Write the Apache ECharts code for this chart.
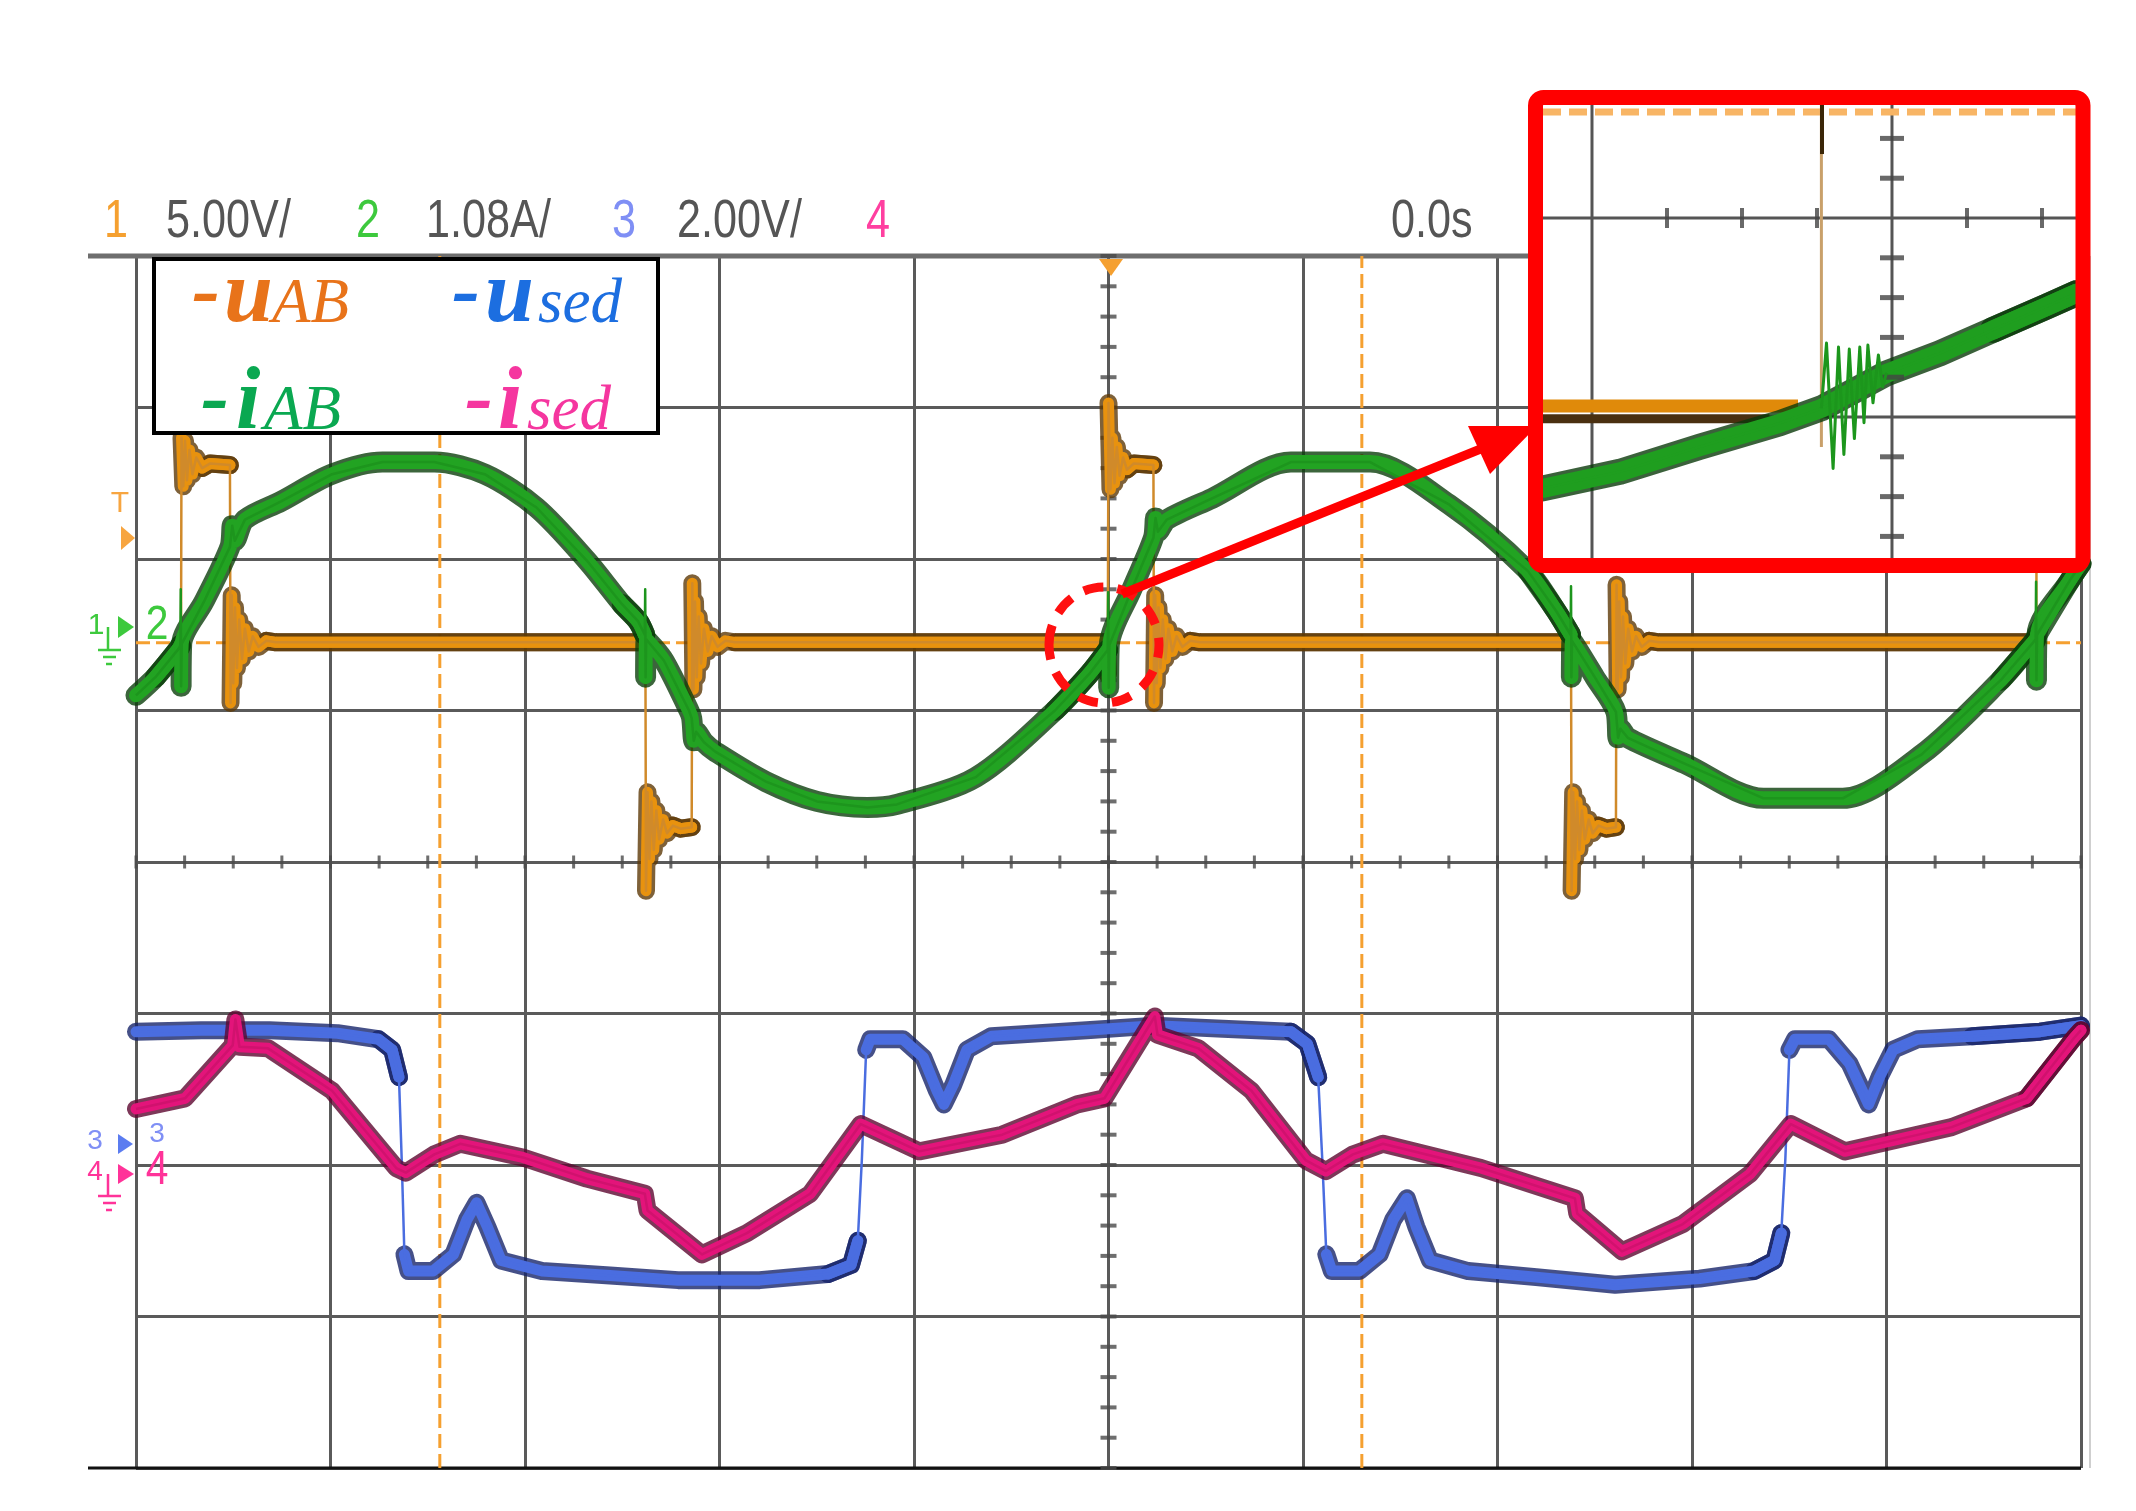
<!DOCTYPE html>
<html><head><meta charset="utf-8">
<script src="https://cdn.jsdelivr.net/npm/echarts@6.0.0/dist/echarts.min.js"></script>
<style>html,body{margin:0;padding:0;background:#fff;}#c{width:2136px;height:1511px;}</style>
</head><body><div id="c"></div>
<script>
// ---------- data (units: screen divisions, x: -5..5, y: -4..4) ----------
const uAB = [
 [-4.769,1.18],[-4.766,2.80],[-4.757,2.48],[-4.748,2.78],[-4.738,2.52],[-4.725,2.72],[-4.71,2.56],[-4.69,2.67],[-4.66,2.60],[-4.62,2.63],[-4.517,2.62],
 [-4.514,1.05],[-4.508,1.76],[-4.500,1.18],[-4.491,1.68],[-4.481,1.28],[-4.469,1.60],[-4.455,1.34],[-4.44,1.54],[-4.42,1.39],[-4.40,1.49],[-4.37,1.42],[-4.33,1.46],[-4.28,1.45],
 [-2.381,1.45],
 [-2.378,-0.19],[-2.370,0.46],[-2.360,0.02],[-2.350,0.40],[-2.338,0.08],[-2.325,0.34],[-2.31,0.15],[-2.29,0.28],[-2.27,0.19],[-2.24,0.24],[-2.20,0.22],[-2.143,0.23],
 [-2.140,1.84],[-2.134,1.14],[-2.126,1.72],[-2.117,1.22],[-2.107,1.62],[-2.095,1.31],[-2.08,1.54],[-2.06,1.39],[-2.04,1.49],[-2.01,1.42],[-1.97,1.46],[-1.92,1.45],
 [-0.008,1.45],
 [-0.004,1.24],[0.000,3.03],[0.010,2.46],[0.020,2.80],[0.031,2.50],[0.043,2.74],[0.057,2.55],[0.075,2.67],[0.095,2.59],[0.13,2.63],[0.231,2.62],
 [0.234,1.05],[0.240,1.76],[0.248,1.18],[0.257,1.68],[0.267,1.28],[0.279,1.60],[0.293,1.34],[0.308,1.54],[0.328,1.39],[0.35,1.49],[0.38,1.42],[0.42,1.46],[0.47,1.45],
 [2.378,1.45],
 [2.381,-0.19],[2.389,0.46],[2.399,0.02],[2.409,0.40],[2.421,0.08],[2.434,0.34],[2.449,0.15],[2.469,0.28],[2.489,0.19],[2.519,0.24],[2.56,0.22],[2.609,0.23],
 [2.612,1.83],[2.618,1.14],[2.626,1.72],[2.635,1.22],[2.645,1.62],[2.657,1.31],[2.672,1.54],[2.692,1.39],[2.712,1.49],[2.742,1.42],[2.78,1.46],[2.83,1.45],
 [4.769,1.45],[4.770,1.20],[4.772,2.62],[5.0,2.62]
];
const iAB = [
 [-5.0,1.10],[-4.90,1.22],[-4.779,1.41],
 [-4.772,1.43],[-4.770,1.80],[-4.768,1.16],[-4.765,1.44],
 [-4.65,1.72],[-4.517,2.08],[-4.505,2.22],[-4.492,2.12],[-4.44,2.26],
 [-4.254,2.38],[-3.992,2.56],[-3.733,2.64],[-3.466,2.64],[-3.207,2.56],[-2.941,2.34],[-2.682,1.99],[-2.50,1.70],
 [-2.419,1.59],[-2.384,1.50],[-2.382,1.80],[-2.380,1.22],[-2.377,1.47],
 [-2.286,1.33],[-2.157,1.00],[-2.143,0.95],[-2.132,0.80],[-2.120,0.86],[-2.08,0.79],
 [-2.024,0.73],[-1.761,0.53],[-1.499,0.40],[-1.239,0.36],[-1.088,0.38],[-0.682,0.56],[-0.275,1.00],
 [-0.10,1.24],[-0.004,1.40],[-0.002,1.78],[0.001,1.15],[0.004,1.43],
 [0.12,1.80],[0.231,2.14],[0.242,2.27],[0.254,2.18],[0.30,2.26],
 [0.532,2.40],[0.938,2.64],[1.345,2.64],[1.751,2.36],[2.157,1.92],[2.30,1.66],
 [2.376,1.50],[2.378,1.82],[2.380,1.22],[2.383,1.46],
 [2.5,1.22],[2.609,0.99],[2.620,0.82],[2.632,0.88],[2.67,0.82],
 [2.962,0.65],[3.368,0.42],[3.775,0.42],[4.181,0.71],[4.587,1.20],
 [4.748,1.44],[4.767,1.47],[4.769,1.85],[4.771,1.20],[4.774,1.50],
 [4.948,1.87],[5.0,1.97]
];
const uSed = [
 [-5.0,-1.12],[-4.664,-1.11],[-4.314,-1.11],[-3.964,-1.13],[-3.753,-1.17],[-3.683,-1.24],[-3.648,-1.42],[-3.634,-1.96],[-3.620,-2.59],[-3.599,-2.70],
 [-3.473,-2.70],[-3.368,-2.59],[-3.298,-2.36],[-3.249,-2.25],[-3.193,-2.41],[-3.123,-2.63],[-2.913,-2.70],[-2.563,-2.73],[-2.213,-2.76],[-1.793,-2.76],
 [-1.443,-2.72],[-1.324,-2.66],[-1.289,-2.50],[-1.268,-1.96],[-1.246,-1.24],[-1.225,-1.17],[-1.057,-1.17],[-0.952,-1.29],[-0.882,-1.51],[-0.847,-1.60],
 [-0.798,-1.47],[-0.728,-1.24],[-0.602,-1.15],[-0.112,-1.11],[0.238,-1.08],[0.588,-1.10],[0.938,-1.12],[1.022,-1.20],[1.078,-1.42],[1.099,-1.96],
 [1.120,-2.59],[1.148,-2.70],[1.289,-2.70],[1.394,-2.59],[1.464,-2.36],[1.534,-2.22],[1.583,-2.41],[1.653,-2.63],[1.849,-2.70],[2.199,-2.74],
 [2.605,-2.79],[3.039,-2.75],[3.319,-2.70],[3.424,-2.63],[3.459,-2.45],[3.480,-1.96],[3.501,-1.24],[3.529,-1.17],[3.704,-1.17],[3.810,-1.33],
 [3.908,-1.60],[3.964,-1.42],[4.034,-1.24],[4.160,-1.17],[4.440,-1.15],[4.790,-1.12],[5.0,-1.08]
];
const iSed = [
 [-5.0,-1.63],[-4.748,-1.56],[-4.503,-1.21],[-4.489,-1.04],[-4.468,-1.22],[-4.321,-1.23],[-3.992,-1.51],[-3.662,-2.02],[-3.613,-2.05],[-3.466,-1.93],
 [-3.333,-1.86],[-3.011,-1.95],[-2.682,-2.09],[-2.384,-2.19],[-2.37,-2.30],[-2.090,-2.59],[-1.859,-2.45],[-1.534,-2.19],[-1.274,-1.73],[-0.973,-1.91],
 [-0.546,-1.80],[-0.161,-1.60],[-0.021,-1.56],[0.238,-1.02],[0.252,-1.14],[0.462,-1.23],[0.735,-1.51],[1.015,-1.97],[1.118,-2.04],[1.257,-1.93],
 [1.411,-1.86],[1.915,-2.02],[2.398,-2.22],[2.41,-2.32],[2.640,-2.57],[2.953,-2.39],[3.298,-2.06],[3.508,-1.73],[3.786,-1.91],[4.335,-1.75],
 [4.720,-1.56],[4.965,-1.16],[5.0,-1.11]
];
const cursorX = [-3.438, 1.3025];
const ch1Ground = 1.447;

// inset (zoomed view), units: inset divisions
const insetIAB = [[0,0.350],[0.256,0.433],[0.523,0.559],[0.789,0.677],[0.928,0.752],[1.145,0.928],[1.323,1.029],[1.500,1.146],[1.678,1.263],[1.777,1.330]];
const insetIABRing = [[0.928,0.752],[0.945,1.08],[0.967,0.45],[0.985,1.06],[1.003,0.52],[1.021,1.05],[1.038,0.60],[1.056,1.06],[1.070,0.68],[1.083,1.07],[1.100,0.78],[1.118,1.02],[1.132,0.86],[1.145,0.93]];
const insetUAB = [[0,0.764],[0.85,0.764]];
const insetUABShade = [[0,0.70],[0.755,0.70]];
const insetUABEdge = [[0.928,0.558],[0.928,2.28]];
const insetEdgeSpike = [[0.93,2.03],[0.93,2.28]];
const insetCursorY = 2.241;
const insetGridX = [0.1633, 1.1633];
const insetGridY = [0.7085, 1.7085];
const insetHTicksX = [0.4133, 0.6633, 0.9133, 1.4133, 1.6633];
const insetVTicksY = [0.1085, 0.3085, 0.5085, 0.9085, 1.1085, 1.3085, 1.5085, 1.9085, 2.1085];

// header texts
const headerItems = [
 {t:'1', c:'#f5a030'}, {t:'5.00V/', c:'#555'}, {t:'2', c:'#3dc93d'}, {t:'1.08A/', c:'#555'},
 {t:'3', c:'#7f8ff5'}, {t:'2.00V/', c:'#555'}, {t:'4', c:'#ff3fa0'}, {t:'0.0s', c:'#555'}
];
const headerX = [104, 166, 356, 426, 612, 677, 866, 1391];

// center-line tick positions
const centerXTicks = []; for (let k = -20; k <= 20; k++) centerXTicks.push([k * 0.25, 0]);
const centerYTicks = []; for (let k = -20; k <= 20; k++) centerYTicks.push([0, k * 0.2]);

// ---------- chart ----------
const chart = echarts.init(document.getElementById('c'), null, {renderer: 'canvas', width: 2136, height: 1511});
const NF = "'Liberation Sans','Arial',sans-serif";
const SF = "'Liberation Serif','DejaVu Serif',serif";

// split a trace into runs, breaking at near-vertical edges (those are drawn thin only)
function runs(data, thr) {
  const segs = [[data[0]]];
  for (let i = 1; i < data.length; i++) {
    const a = data[i - 1], b = data[i];
    if (Math.abs(b[1] - a[1]) > thr * Math.abs(b[0] - a[0])) segs.push([b]);
    else segs[segs.length - 1].push(b);
  }
  return segs.filter(s => s.length > 1);
}
function trace(data, color, thin, dark, w, z, thr, smooth, xi, yi) {
  xi = xi || 0; yi = yi || 0;
  const segs = runs(data, thr);
  // each run drawn whole, plus its settled tail as its own stroke
  const parts = [];
  segs.forEach(s => { parts.push(s); if (s.length > 3) parts.push(s.slice(-3)); });
  const out = [];
  parts.forEach(s => out.push({type:'line', xAxisIndex:xi, yAxisIndex:yi, data:s, symbol:'none', silent:true, animation:false, z, smooth,
     lineStyle:{color:dark, width:w + 7, opacity:0.8, join:'round', cap:'round'}}));
  parts.forEach(s => out.push({type:'line', xAxisIndex:xi, yAxisIndex:yi, data:s, symbol:'none', silent:true, animation:false, z, smooth,
     lineStyle:{color, width:w, join:'round', cap:'round'}}));
  out.push({type:'line', xAxisIndex:xi, yAxisIndex:yi, data, symbol:'none', silent:true, animation:false, z,
     lineStyle:{color:thin, width:2.5, join:'round'}});
  return out;
}
function simpleLine(data, color, width, z, xi, yi, type) {
  return {type:'line', xAxisIndex:xi, yAxisIndex:yi, data, symbol:'none', silent:true, animation:false, z,
    lineStyle:{color, width, type: type || 'solid', join:'round'}};
}
const dash = [14, 6];

const series = [];
cursorX.forEach(x => series.push(simpleLine([[x,-4],[x,4]], '#f5a030', 3, 2, 0, 0, dash)));
series.push(simpleLine([[-5,ch1Ground],[5,ch1Ground]], '#f5a030', 3, 2, 0, 0, dash));
series.push({type:'scatter', data:centerXTicks, symbol:'rect', symbolSize:[3,13], itemStyle:{color:'#4a4a4a'}, silent:true, animation:false, z:2});
series.push({type:'scatter', data:centerYTicks, symbol:'rect', symbolSize:[16,4], itemStyle:{color:'#4a4a4a'}, silent:true, animation:false, z:2});
series.push(...trace(uAB, '#e8920e', '#d08a2a', '#5e3a08', 11, 3, 200, false));
series.push(...trace(iAB, '#22a322', '#1d951d', '#0b3f0b', 14, 3, 100, 0.3));
series.push(...trace(uSed, '#4a6de0', '#4a6de0', '#16246a', 11, 3, 20, false));
series.push(...trace(iSed, '#e3147a', '#d0126e', '#5c0630', 11, 3, 100, false));

// inset
insetGridX.forEach(x => series.push(simpleLine([[x,0],[x,2.2764]], '#555', 3, 5, 1, 1)));
insetGridY.forEach(y => series.push(simpleLine([[0,y],[1.7767,y]], '#555', 3, 5, 1, 1)));
series.push({type:'scatter', xAxisIndex:1, yAxisIndex:1, data:insetHTicksX.map(x => [x, insetGridY[1]]), symbol:'rect', symbolSize:[4,20], itemStyle:{color:'#444'}, silent:true, animation:false, z:5});
series.push({type:'scatter', xAxisIndex:1, yAxisIndex:1, data:insetVTicksY.map(y => [insetGridX[1], y]), symbol:'rect', symbolSize:[24,5], itemStyle:{color:'#444'}, silent:true, animation:false, z:5});
series.push(simpleLine([[0,insetCursorY],[1.7767,insetCursorY]], '#f8b565', 7, 5, 1, 1, [18, 8]));
series.push(simpleLine(insetUABShade, '#4a3010', 9, 5, 1, 1));
series.push(simpleLine(insetUAB, '#e08a0a', 13, 5, 1, 1));
series.push(simpleLine(insetUABEdge, '#c9a06a', 3, 5, 1, 1));
series.push(simpleLine(insetEdgeSpike, '#3a2608', 4, 5, 1, 1));
series.push(simpleLine(insetIABRing, '#1c961c', 3, 6, 1, 1));
series.push(...trace(insetIAB, '#1f9e1f', '#1f9e1f', '#0a3a0a', 19, 5, 100, false, 1, 1));

// ---------- graphics ----------
const G = [];
function txt(x, y, text, o, sx) {
  G.push({type:'text', x, y, z:100, silent:true, scaleX: sx || 1, scaleY: 1,
    style:Object.assign({text, fill:'#555', fontFamily:NF, fontSize:52, align:'left', verticalAlign:'middle',
      textAlign:'left', textVerticalAlign:'middle'}, o)});
}
function ln(x1, y1, x2, y2, color, w, z) {
  G.push({type:'line', z: z || 100, silent:true, shape:{x1, y1, x2, y2}, style:{stroke:color, lineWidth:w}});
}
function poly(pts, color) {
  G.push({type:'polygon', z:100, silent:true, shape:{points:pts}, style:{fill:color}});
}
// frame extensions
ln(88, 256, 2081, 256, '#6e6e6e', 5, 1);
ln(88, 1468, 2081, 1468, '#111', 3, 1);
ln(2090, 256, 2090, 1468, '#cfcfcf', 2, 1);
// header
headerItems.forEach((h, i) => txt(headerX[i], 222, h.t, {fill:h.c, fontSize:54}, 0.8));
// trigger marker
poly([[1099,259],[1123,259],[1111,276]], '#f5a030');
// left markers
txt(120, 504, 'T', {fill:'#f7a540', fontSize:30, align:'center', textAlign:'center'});
poly([[121,526],[121,550],[135,538]], '#f7a540');
txt(157, 626, '2', {fill:'#3dc93d', fontSize:48, align:'center', textAlign:'center'}, 0.85);
txt(96, 626, '1', {fill:'#3dc93d', fontSize:30, align:'center', textAlign:'center'});
poly([[118,616],[118,638],[134,627]], '#3dc93d');
ln(108, 627, 108, 650, '#3dc93d', 2.5);
ln(98, 650, 121, 650, '#3dc93d', 2.5);
ln(103, 657, 116, 657, '#3dc93d', 2.5);
ln(106, 664, 112, 664, '#3dc93d', 2.5);
txt(157, 1134, '3', {fill:'#7f8ff5', fontSize:28, align:'center', textAlign:'center'});
txt(95, 1141, '3', {fill:'#7f8ff5', fontSize:28, align:'center', textAlign:'center'});
poly([[118,1134],[118,1154],[133,1144]], '#5b7cf0');
txt(157, 1171, '4', {fill:'#ff3399', fontSize:48, align:'center', textAlign:'center'}, 0.85);
txt(95, 1172, '4', {fill:'#ff3399', fontSize:28, align:'center', textAlign:'center'});
poly([[118,1164],[118,1184],[134,1174]], '#ff3399');
ln(108, 1174, 108, 1196, '#ff3399', 2.5);
ln(98, 1196, 121, 1196, '#ff3399', 2.5);
ln(103, 1203, 116, 1203, '#ff3399', 2.5);
ln(106, 1210, 112, 1210, '#ff3399', 2.5);
// legend box
G.push({type:'rect', z:100, silent:true, shape:{x:154, y:259, width:504, height:174}, style:{fill:'#fff', stroke:'#000', lineWidth:4}});
function leg(x, B, c, big, small) {
  txt(x[0], B - 29, '-', {fill:c, fontFamily:SF, fontSize:84, fontWeight:'bold', fontStyle:'italic'});
  txt(x[1], B - 26, big, {fill:c, fontFamily:SF, fontSize:88, fontWeight:'bold', fontStyle:'italic'});
  txt(x[2], B - 19, small, {fill:c, fontFamily:SF, fontSize:63, fontStyle:'italic'});
}
leg([192, 224, 272], 324, '#e8731a', 'u', 'AB');
leg([452, 485, 538], 324, '#1c6ee0', 'u', 'sed');
leg([201, 236, 264], 431, '#0aa851', 'i', 'AB');
leg([465, 498, 527], 431, '#f5369f', 'i', 'sed');
// annotation
G.push({type:'ellipse', z:100, silent:true, shape:{cx:1104, cy:645, rx:55, ry:58}, style:{fill:'none', stroke:'#ff1010', lineWidth:9, lineDash:[20,14]}});
ln(1122, 594, 1488, 446, '#ff0000', 9);
poly([[1537,426],[1468,426],[1490,474]], '#ff0000');
G.push({type:'rect', z:100, silent:true, shape:{x:1535.5, y:97.5, width:547.5, height:468, r:8}, style:{fill:'none', stroke:'#ff0000', lineWidth:15}});

chart.setOption({
  animation:false,
  backgroundColor:'#fff',
  grid:[
    {left:136, top:256, width:1945, height:1212, show:false, outerBoundsMode:'none', containLabel:false},
    {left:1543, top:105, width:533, height:453, show:true, backgroundColor:'#fff', borderWidth:0, z:4, outerBoundsMode:'none', containLabel:false}
  ],
  xAxis:[
    {gridIndex:0, type:'value', min:-5, max:5, interval:1, axisLine:{show:false}, axisTick:{show:false}, axisLabel:{show:false},
     splitLine:{show:true, lineStyle:{color:'#5a5a5a', width:3}}},
    {gridIndex:1, type:'value', min:0, max:1.7767, show:false}
  ],
  yAxis:[
    {gridIndex:0, type:'value', min:-4, max:4, interval:1, axisLine:{show:false}, axisTick:{show:false}, axisLabel:{show:false},
     splitLine:{show:true, lineStyle:{color:'#5a5a5a', width:3}}},
    {gridIndex:1, type:'value', min:0, max:2.2764, show:false}
  ],
  series,
  graphic:{elements:G}
});
</script></body></html>
